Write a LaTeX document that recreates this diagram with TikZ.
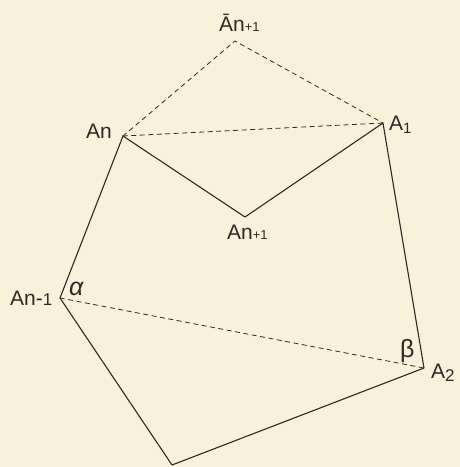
\documentclass[tikz,border=0pt]{standalone}
\usepackage{fontspec}
\setmainfont{Liberation Sans}
\definecolor{Paper}{RGB}{250,241,218}
\definecolor{Ink}{RGB}{45,42,38}

\begin{document}
\begin{tikzpicture}[x=1pt,y=-1pt,line cap=round,line join=round,
  edge/.style={draw=Ink,line width=1.1pt},
  aux/.style={draw=Ink,line width=0.8pt,dash pattern=on 4.5pt off 4pt},
  lbl/.style={text=Ink,inner sep=0pt,anchor=base west,font=\fontsize{21}{22}\selectfont},
  greek/.style={lbl,font=\fontsize{25}{26}\selectfont}]
\fill[Paper] (0,0) rectangle (460,467);
\path[use as bounding box] (0,0) rectangle (460,467);
% vertices
\coordinate (Abar) at (235,41);
\coordinate (An) at (123,136);
\coordinate (A1) at (383,123);
\coordinate (Anp) at (245,217);
\coordinate (Anm) at (60,298);
\coordinate (A2) at (424,368);
\coordinate (B) at (172,465);
% solid sides
\draw[edge] (An) -- (Anp) -- (A1) -- (A2) -- (B) -- (Anm) -- cycle;
% dashed lines
\draw[aux] (An) -- (Abar) -- (A1);
\draw[aux] (An) -- (A1);
\draw[aux] (Anm) -- (A2);
% labels
\node[lbl] (lAbar) at (219,31) {Ān{\fontsize{13}{14}\selectfont+1}};
\node[lbl] (lAn) at (86,138) {An};
\node[lbl] (lA1) at (389,130) {A\raisebox{-0.3ex}{\fontsize{15}{16}\selectfont 1}};
\node[lbl] (lAnp) at (227,239) {An{\fontsize{13}{14}\selectfont+1}};
\node[lbl] (lAnm) at (10,305) {An-{\fontsize{17}{18}\selectfont 1}};
\node[greek] (lalpha) at (69,295) {\textit{α}};
\node[greek] (lbeta) at (400,357) {β};
\node[lbl] (lA2) at (431,378) {A\raisebox{-0.3ex}{\fontsize{17}{18}\selectfont 2}};
\end{tikzpicture}
\end{document}
